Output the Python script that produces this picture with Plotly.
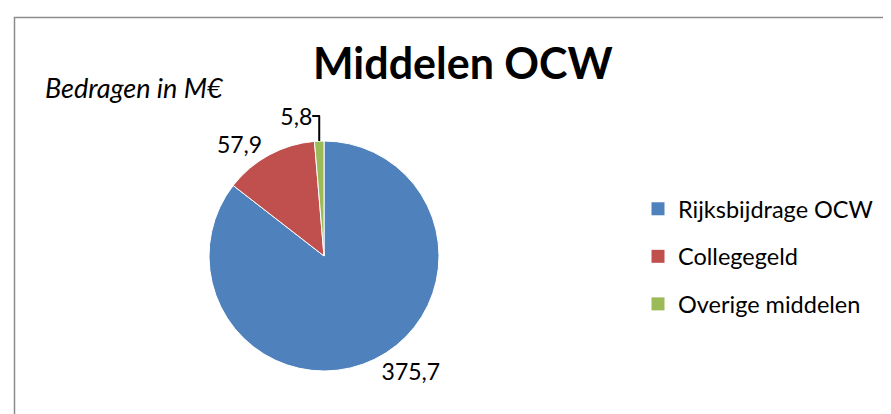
import plotly.graph_objects as go

categories = ["Rijksbijdrage OCW", "Collegegeld", "Overige middelen"]
values = [375.7, 57.9, 5.8]
colors = ["#4F81BD", "#C0504D", "#9BBB59"]

W, H = 891, 414
FONT = "Lato"

fig = go.Figure()
fig.add_trace(go.Pie(
    labels=categories, values=values, sort=False, direction="clockwise", rotation=0,
    marker=dict(colors=colors, line=dict(color="white", width=1)),
    texttemplate="%{value:.1f}", textposition="outside",
    textfont=dict(size=23, color="black", family=FONT),
    showlegend=False, hoverinfo="label+value",
    domain=dict(x=[201 / W, 431 / W], y=[1 - 363 / H, 1 - 133 / H]),
))
for c, col in zip(categories, colors):
    fig.add_trace(go.Scatter(x=[None], y=[None], mode="markers", name=c, legendgroup=c,
                             marker=dict(symbol="square", size=13, color=col)))

fig.update_layout(
    width=W, height=H, margin=dict(l=0, r=0, t=0, b=0),
    paper_bgcolor="white", plot_bgcolor="white",
    separators=",.",
    font=dict(family=FONT, color="black"),
    xaxis=dict(visible=False), yaxis=dict(visible=False),
    legend=dict(x=630 / W, y=1 - 179 / H, xanchor="left", yanchor="top",
                font=dict(size=23.5, family=FONT), tracegroupgap=14,
                bgcolor="rgba(0,0,0,0)"),
    annotations=[
        dict(text="<b>Middelen OCW</b>", x=455 / W, y=1 - 54 / H, xref="paper", yref="paper",
             showarrow=False, font=dict(size=43, family=FONT), xanchor="center", yanchor="middle"),
        dict(text="<i>Bedragen in M€</i>", x=35 / W, y=1 - 80 / H, xref="paper", yref="paper",
             showarrow=False, font=dict(size=27, family=FONT), xanchor="left", yanchor="middle"),
    ],
    shapes=[dict(type="rect", xref="paper", yref="paper", x0=6.5 / W, y0=-0.05, x1=1.05, y1=1 - 9.5 / H,
                 line=dict(color="#8c8c8c", width=1.5), fillcolor="rgba(0,0,0,0)")],
)
fig.write_html("out.html")
